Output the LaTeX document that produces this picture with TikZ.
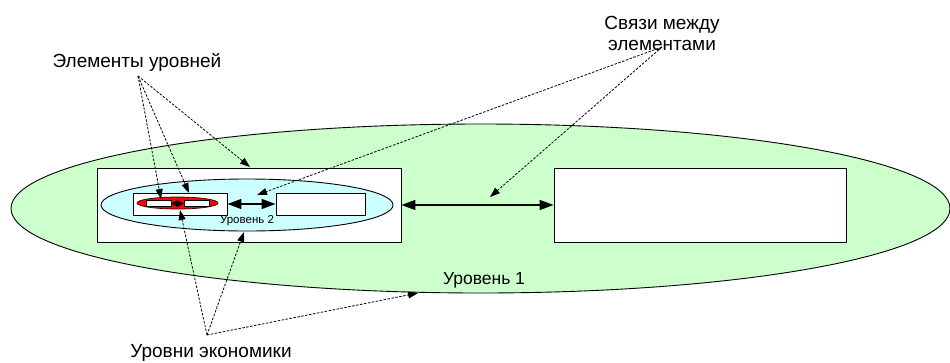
\documentclass[tikz,border=0pt]{standalone}
\usepackage{fontspec}
\setmainfont{Liberation Sans}
\usetikzlibrary{shapes.geometric,arrows.meta}
\definecolor{lvlgreen}{HTML}{CCFFCC}
\definecolor{lvlcyan}{HTML}{CCFFFF}
\definecolor{lvlred}{HTML}{FF0000}
\tikzset{
  ell/.style={ellipse,draw=black,line width=0.9bp,inner sep=0pt},
  box/.style={rectangle,draw=black,fill=white,line width=0.9bp,inner sep=0pt},
  lbl/.style={inner sep=0pt,align=center,font=\fontsize{19bp}{21bp}\selectfont},
  pointer/.style={dash pattern=on 2.5bp off 1.5bp,line width=0.8bp,-{Triangle[length=10bp,width=7bp]}},
  link/.style={line width=1.5bp,{Triangle[length=14bp,width=10bp]}-{Triangle[length=14bp,width=10bp]}},
}
\begin{document}
\begin{tikzpicture}[x=1bp,y=-1bp]
\useasboundingbox (0,0) rectangle (950,362);
% level 1
\node[ell,fill=lvlgreen,minimum width=939bp,minimum height=169bp] (G) at (480.5,208.5) {};
\node[inner sep=0pt,font=\fontsize{17.5bp}{19bp}\selectfont] (G1) at (484,280) {Уровень 1};
\node[box,minimum width=304bp,minimum height=74bp] (L) at (249,205) {};
\node[box,minimum width=292bp,minimum height=74bp] (R) at (700,205) {};
% level 2
\node[ell,fill=lvlcyan,minimum width=292bp,minimum height=52bp] (C) at (247,205) {};
\node[inner sep=0pt,font=\fontsize{11.5bp}{13bp}\selectfont] (C2) at (247,221) {Уровень 2};
\node[box,minimum width=94bp,minimum height=22bp] (S1) at (180,204) {};
\node[box,minimum width=89bp,minimum height=22bp] (S2) at (320.5,204) {};
% level 3
\node[ell,fill=lvlred,draw=black!80!red,line width=0.7bp,minimum width=81bp,minimum height=12bp] (E) at (177.5,203) {};
\node[box,line width=0.7bp,minimum width=25bp,minimum height=5.5bp] (m1) at (158.5,203.5) {};
\node[box,line width=0.7bp,minimum width=25bp,minimum height=5.5bp] (m2) at (196.5,203.5) {};
% links
\draw[line width=1.2bp,{Triangle[length=6.5bp,width=7bp]}-{Triangle[length=6.5bp,width=7bp]}] (m1.east) -- (m2.west);
\draw[link] (S1.east) -- (S2.west);
\draw[link] (L.east) -- (R.west);
% labels
\node[lbl] (TE) at (137,62) {Элементы уровней};
\node[lbl] (TS) at (662,33) {Связи между\\элементами};
\node[lbl] (TU) at (211,353) {Уровни экономики};
\coordinate (cE) at (138,76);
\coordinate (cS) at (662,47);
\coordinate (cU) at (207,335);
\coordinate (tE1) at (161,199);
\coordinate (tE2) at (189,193);
\coordinate (tE3) at (250,167);
\coordinate (tS1) at (257,195);
\coordinate (tS2) at (490,197);
\coordinate (tU1) at (180,210);
\coordinate (tU2) at (244,232);
\coordinate (tU3) at (418,293);
\draw[pointer] (cE) -- (tE1);
\draw[pointer] (cE) -- (tE2);
\draw[pointer] (cE) -- (tE3);
\draw[pointer] (cS) -- (tS1);
\draw[pointer] (cS) -- (tS2);
\draw[pointer] (cU) -- (tU1);
\draw[pointer] (cU) -- (tU2);
\draw[pointer] (cU) -- (tU3);
\end{tikzpicture}
\end{document}
